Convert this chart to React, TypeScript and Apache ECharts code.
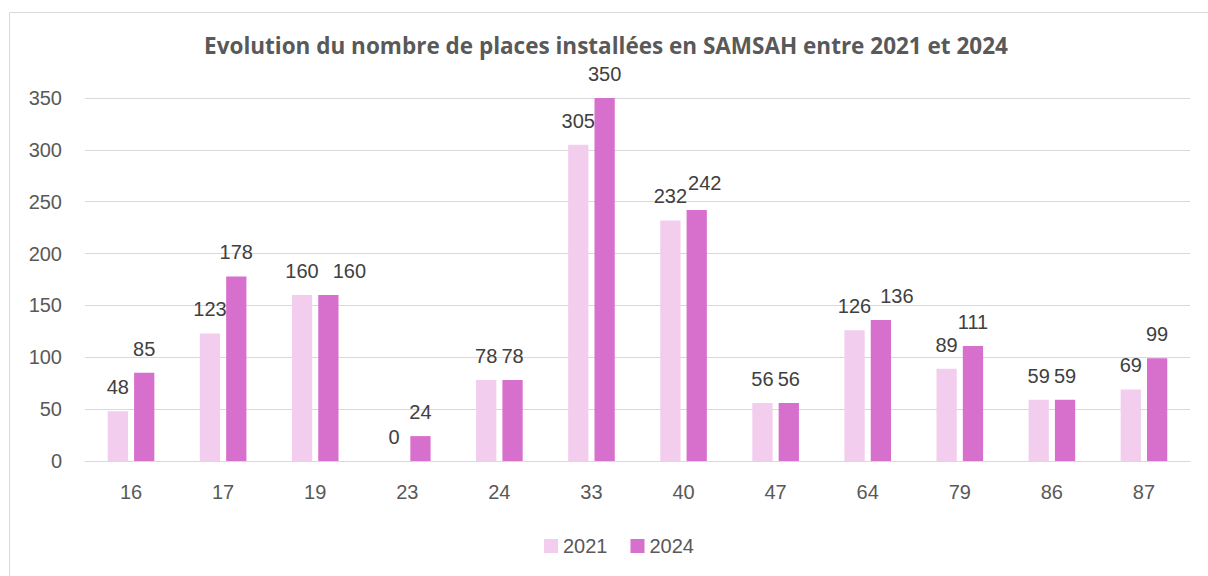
import React, { useEffect, useRef } from "react";
import * as echarts from "echarts";

const categories = ["16", "17", "19", "23", "24", "33", "40", "47", "64", "79", "86", "87"];
const values2021 = [48, 123, 160, 0, 78, 305, 232, 56, 126, 89, 59, 69];
const values2024 = [85, 178, 160, 24, 78, 350, 242, 56, 136, 111, 59, 99];
const yTicks = { min: 0, max: 350, interval: 50 };

export default function App() {
  const ref = useRef<HTMLDivElement>(null);
  useEffect(() => {
    if (!ref.current) return;
    const chart = echarts.init(ref.current, undefined, { renderer: "svg" });
    const labelStyle = {
      show: true,
      position: "top" as const,
      distance: 14,
      fontSize: 20,
      color: "#404040",
      fontFamily: "Liberation Sans",
    };
    // Label nudges as in the reference (to avoid overlapping labels)
    const labelNudge2024: Record<number, number[]> = { 2: [21, 0], 6: [8, -3], 8: [16, 0] };
    chart.setOption({
      animation: false,
      backgroundColor: "#ffffff",
      title: {
        text: "Evolution du nombre de places installées en SAMSAH entre 2021 et 2024",
        left: 601,
        textAlign: "center",
        top: 29,
        textStyle: {
          fontSize: 22.5,
          fontWeight: "bold",
          color: "#595959",
          fontFamily: "Open Sans",
        },
      },
      graphic: [
        {
          type: "rect",
          shape: { x: 9.5, y: 12.5, width: 1220, height: 620 },
          style: { fill: "none", stroke: "#d9d9d9", lineWidth: 1 },
          silent: true,
        },
      ],
      legend: {
        data: ["2021", "2024"],
        top: 531,
        left: 539,
        itemWidth: 14,
        itemHeight: 14,
        itemGap: 23,
        icon: "rect",
        textStyle: { fontSize: 20, color: "#595959", fontFamily: "Liberation Sans" },
      },
      grid: { left: 85, right: 18, top: 98, bottom: 115, containLabel: false },
      xAxis: {
        type: "category",
        data: categories,
        axisLine: { lineStyle: { color: "#d9d9d9", width: 1 } },
        axisTick: { show: false },
        axisLabel: { fontSize: 20, color: "#595959", margin: 21, fontFamily: "Liberation Sans" },
      },
      yAxis: {
        type: "value",
        min: yTicks.min,
        max: yTicks.max,
        interval: yTicks.interval,
        axisLine: { show: false },
        axisTick: { show: false },
        splitLine: { lineStyle: { color: "#d9d9d9", width: 1 } },
        axisLabel: { fontSize: 20, color: "#595959", margin: 23, fontFamily: "Liberation Sans" },
      },
      series: [
        {
          name: "2021",
          type: "bar",
          data: values2021,
          barWidth: "22%",
          barGap: "30%",
          itemStyle: { color: "#f2cdee" },
          label: labelStyle,
        },
        {
          name: "2024",
          type: "bar",
          data: values2024.map((v, i) =>
            labelNudge2024[i] ? { value: v, label: { offset: labelNudge2024[i] } } : v
          ),
          barWidth: "22%",
          itemStyle: { color: "#d76fcd" },
          label: labelStyle,
        },
      ],
    });
    return () => chart.dispose();
  }, []);
  return (
    <div
      ref={ref}
      style={{ position: "absolute", left: 0, top: 0, width: 1208, height: 576 }}
    />
  );
}
